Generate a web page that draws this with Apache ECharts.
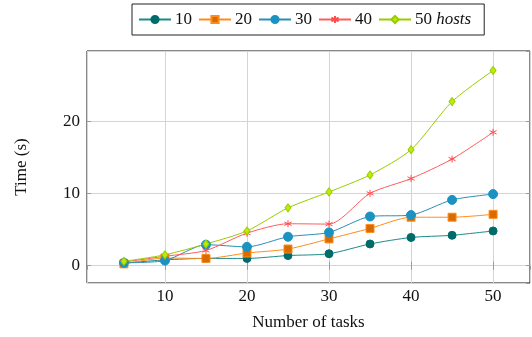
<!DOCTYPE html>
<html>
<head>
<meta charset="utf-8">
<script src="https://cdn.jsdelivr.net/npm/echarts@6/dist/echarts.min.js"></script>
<style>
  html, body { margin: 0; padding: 0; background: #fff; }
  #chart { width: 532px; height: 337px; }
</style>
</head>
<body>
<div id="chart"></div>
<script>
// Number of tasks on the x axis
const tasks = [5, 10, 15, 20, 25, 30, 35, 40, 45, 50];

// Execution time (s) per host count
const hosts10 = [0.35, 0.8, 1.0, 1.0, 1.4, 1.65, 3.0, 3.9, 4.2, 4.8];
const hosts20 = [0.25, 1.05, 1.0, 1.75, 2.3, 3.7, 5.15, 6.7, 6.7, 7.1];
const hosts30 = [0.4, 0.7, 2.9, 2.6, 4.0, 4.6, 6.8, 7.0, 9.1, 9.9];
const hosts40 = [0.5, 1.3, 2.1, 4.5, 5.8, 5.75, 10.0, 12.05, 14.75, 18.45];
const hosts50 = [0.6, 1.5, 3.0, 4.8, 8.0, 10.2, 12.55, 16.05, 22.7, 27.0];

const seriesNames = ['10', '20', '30', '40', '50 hosts'];
const tickLabelsX = [10, 20, 30, 40, 50];
const tickLabelsY = [0, 10, 20];

const FONT = '"Liberation Serif", "DejaVu Serif", serif';
const asterisk = 'path://M0,-10L0,10M-8.66,-5L8.66,5M-8.66,5L8.66,-5';

const pairs = vals => tasks.map((t, i) => [t, vals[i]]);

function lineSeries(name, vals, lineColor, symbol, size, fill, border, borderWidth) {
  return {
    name: name,
    type: 'line',
    data: pairs(vals),
    smooth: 0.25,
    symbol: symbol,
    symbolSize: size,
    showSymbol: true,
    lineStyle: { color: lineColor, width: 1 },
    itemStyle: { color: fill, borderColor: border, borderWidth: borderWidth },
    emphasis: { disabled: true },
    animation: false
  };
}

const onlyTicks = list => v => (list.indexOf(Math.round(v * 1000) / 1000) >= 0 ? String(Math.round(v)) : '');

const chart = echarts.init(document.getElementById('chart'), null, { renderer: 'canvas' });

chart.setOption({
  backgroundColor: '#fff',
  animation: false,
  textStyle: { fontFamily: FONT },
  legend: {
    data: seriesNames,
    left: 132,
    top: 4,
    orient: 'horizontal',
    itemWidth: 32,
    itemHeight: 9,
    itemGap: 6,
    padding: [7, 13, 7, 6],
    borderColor: '#222',
    borderWidth: 1,
    borderRadius: 0,
    selectedMode: false,
    formatter: n => (n === '50 hosts' ? '50 {i|hosts}' : n),
    textStyle: {
      fontFamily: FONT,
      fontSize: 17,
      color: '#111',
      padding: [0, 0, 0, -1],
      rich: {
        i: { fontFamily: FONT, fontStyle: 'italic', fontSize: 17, color: '#111' }
      }
    }
  },
  grid: {
    left: 87,
    right: 2,
    top: 51,
    bottom: 54,
    show: true,
    borderColor: '#111',
    borderWidth: 1,
    backgroundColor: 'transparent'
  },
  xAxis: [{
    type: 'value',
    min: 0.5,
    max: 54.5,
    splitNumber: 5,
    name: 'Number of tasks',
    nameLocation: 'middle',
    nameGap: 31,
    nameTextStyle: { fontFamily: FONT, fontSize: 17, color: '#111' },
    axisLine: { show: false },
    axisTick: { show: true, inside: true, length: 4, lineStyle: { color: '#999' } },
    axisLabel: {
      showMinLabel: false, showMaxLabel: false,
      margin: 5, fontFamily: FONT, fontSize: 17, color: '#111',
      formatter: onlyTicks(tickLabelsX)
    },
    splitLine: { show: true, lineStyle: { color: '#d4d4d4', width: 1 } }
  }, {
    type: 'value',
    position: 'top',
    min: 0.5,
    max: 54.5,
    splitNumber: 5,
    axisLine: { show: false },
    axisTick: { show: true, inside: true, length: 4, lineStyle: { color: '#999' } },
    axisLabel: { show: false },
    splitLine: { show: false }
  }],
  yAxis: [{
    type: 'value',
    min: -2.4,
    max: 29.7,
    splitNumber: 3,
    name: 'Time (s)',
    nameLocation: 'middle',
    nameGap: 57,
    nameTextStyle: { fontFamily: FONT, fontSize: 17, color: '#111' },
    axisLine: { show: false },
    axisTick: { show: true, inside: true, length: 4, lineStyle: { color: '#999' } },
    axisLabel: {
      showMinLabel: false, showMaxLabel: false,
      margin: 7, fontFamily: FONT, fontSize: 17, color: '#111',
      formatter: onlyTicks(tickLabelsY)
    },
    splitLine: { show: true, lineStyle: { color: '#d4d4d4', width: 1 } }
  }, {
    type: 'value',
    position: 'right',
    min: -2.4,
    max: 29.7,
    splitNumber: 3,
    axisLine: { show: false },
    axisTick: { show: true, inside: true, length: 4, lineStyle: { color: '#999' } },
    axisLabel: { show: false },
    splitLine: { show: false }
  }],
  series: [
    lineSeries('10', hosts10, '#1a8a8a', 'circle', 8, '#006b6b', '#006b6b', 1),
    lineSeries('20', hosts20, '#ff8c1a', 'rect', 8, '#d96b00', '#ff8c1a', 1),
    lineSeries('30', hosts30, '#2a8fb4', 'circle', 9, '#1b93c2', '#1b93c2', 1),
    lineSeries('40', hosts40, '#ff5c5c', asterisk, 7, 'transparent', '#ff4d4d', 1),
    lineSeries('50 hosts', hosts50, '#99cc00', 'diamond', [6, 8], '#bbee00', '#99cc00', 1)
  ]
});
</script>
</body>
</html>
